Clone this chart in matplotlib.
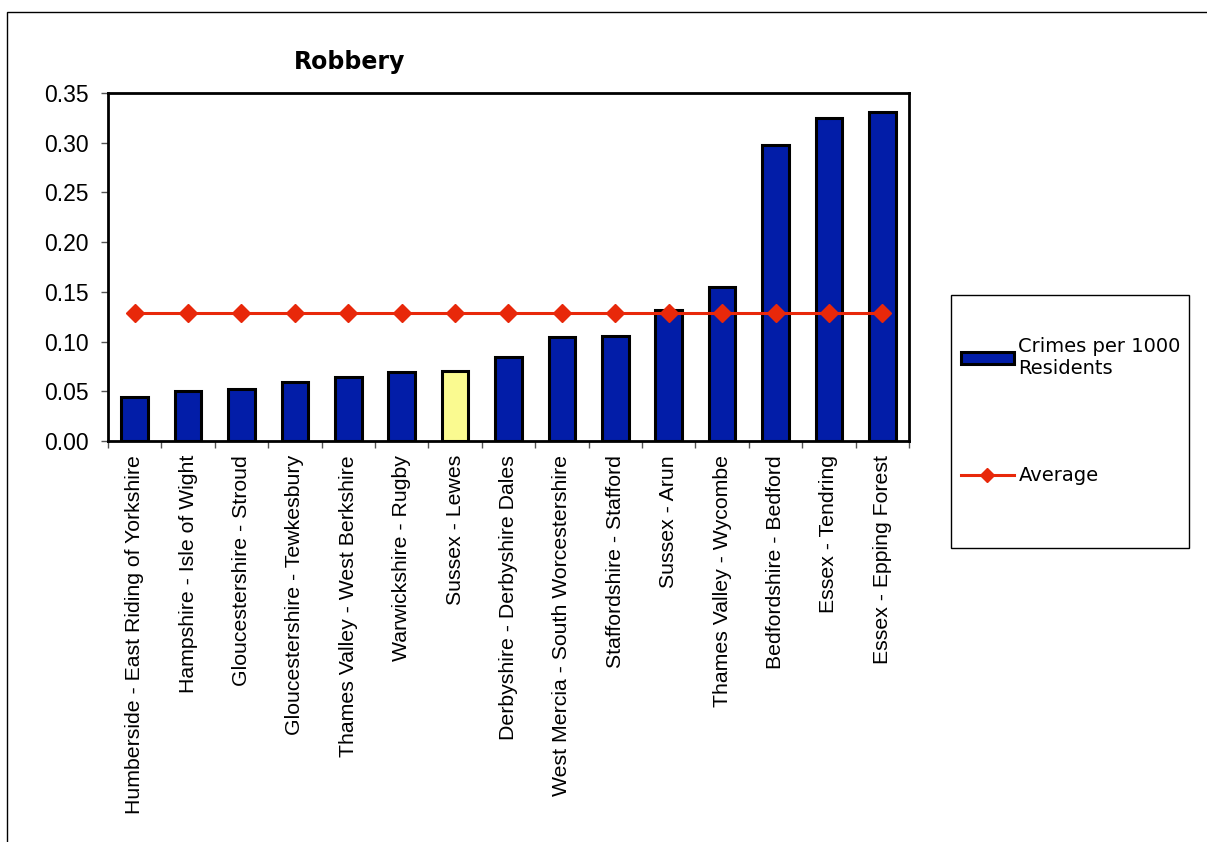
import matplotlib
matplotlib.use("Agg")
import matplotlib.pyplot as plt
from matplotlib.patches import Rectangle
import numpy as np

categories = [
    "Humberside - East Riding of Yorkshire",
    "Hampshire - Isle of Wight",
    "Gloucestershire - Stroud",
    "Gloucestershire - Tewkesbury",
    "Thames Valley - West Berkshire",
    "Warwickshire - Rugby",
    "Sussex - Lewes",
    "Derbyshire - Derbyshire Dales",
    "West Mercia - South Worcestershire",
    "Staffordshire - Stafford",
    "Sussex - Arun",
    "Thames Valley - Wycombe",
    "Bedfordshire - Bedford",
    "Essex - Tendring",
    "Essex - Epping Forest",
]
crimes = [0.044, 0.050, 0.052, 0.059, 0.064, 0.069, 0.070, 0.084, 0.105, 0.106,
          0.132, 0.155, 0.298, 0.325, 0.331]
average = [0.129] * len(categories)
highlight = "Sussex - Lewes"
yticks = [0.00, 0.05, 0.10, 0.15, 0.20, 0.25, 0.30, 0.35]

W, H = 1207, 842
fig = plt.figure(figsize=(W / 100, H / 100), dpi=100)
ax = fig.add_axes([108 / W, 1 - 441 / H, (909 - 108) / W, (441 - 93) / H])

# outer border (cut off at right/bottom)
fig.patches.append(Rectangle((7 / W, -0.1), 1.2, 1 - 12 / H + 0.1, transform=fig.transFigure,
                             fill=False, edgecolor="black", linewidth=1.0))

x = np.arange(len(categories))
colors = ["#FAFA90" if c == highlight else "#021DA8" for c in categories]
bars = ax.bar(x, crimes, width=0.5, color=colors, edgecolor="black", linewidth=2.2,
              zorder=2)
line, = ax.plot(x, average, color="#E8280A", linewidth=2.2, marker="D", markersize=9,
                markeredgecolor="#E8280A", zorder=3)

ax.set_xlim(-0.5, len(categories) - 0.5)
ax.set_ylim(0, 0.35)
ax.set_yticks(yticks)
ax.set_yticklabels([f"{v:.2f}" for v in yticks], fontsize=16.5, family="Liberation Sans")
ax.set_xticks(np.arange(len(categories) + 1) - 0.5, minor=False)
ax.set_xticklabels([])
ax.set_xticks(x, minor=True)
ax.set_xticklabels(categories, minor=True, rotation=90, fontsize=15.3, family="Liberation Sans")
ax.tick_params(axis="x", which="minor", length=0, pad=10)
ax.tick_params(axis="x", which="major", length=5, direction="out", width=1, color="#555555")
ax.tick_params(axis="y", length=5, direction="out", width=1, color="#555555", pad=9)
for s in ax.spines.values():
    s.set_linewidth(2)

fig.text(350 / W, 1 - 62 / H, "Robbery", fontsize=17, fontweight="bold",
         family="DejaVu Sans", ha="center", va="center")

# legend frame
fig.patches.append(Rectangle((951 / W, 1 - 548 / H), (1189 - 951) / W, (548 - 295) / H,
                             transform=fig.transFigure, fill=False, edgecolor="black",
                             linewidth=1.0))
leg = fig.legend([bars[0], line], ["Crimes per 1000\nResidents", "Average"],
                 loc="upper left", bbox_to_anchor=(961 / W, 1 - 337 / H), frameon=False,
                 handlelength=2.7, handleheight=0.62, labelspacing=4.55, borderpad=0,
                 handletextpad=0.25, borderaxespad=0,
                 prop={"family": "DejaVu Sans", "size": 14})
leg.legend_handles[0].set_facecolor("#021DA8")
leg.legend_handles[1].set_markersize(7)

fig.savefig("out.png", dpi=100)
